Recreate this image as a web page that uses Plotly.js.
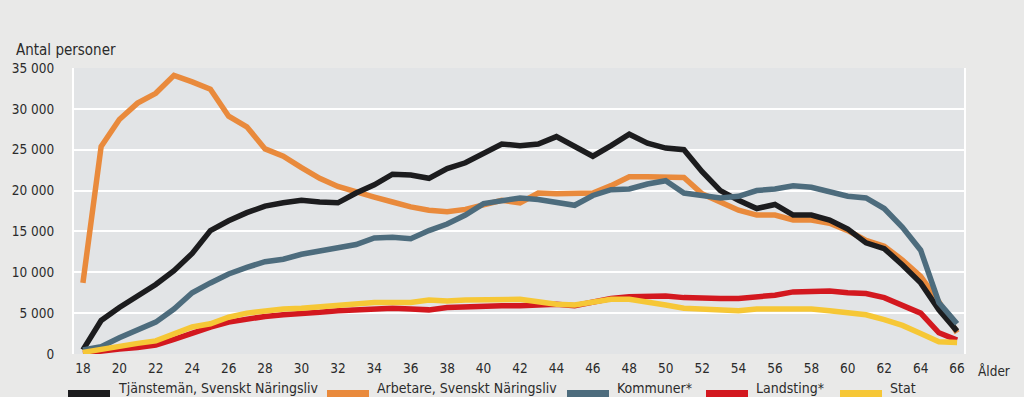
<!DOCTYPE html>
<html>
<head>
<meta charset="utf-8">
<script src="https://cdn.plot.ly/plotly-3.0.1.min.js"></script>
<style>
html,body{margin:0;padding:0;background:#e9e9e8;}
#chart{width:1024px;height:397px;}
</style>
</head>
<body>
<div id="chart"></div>
<script>
// Ages (x axis)
const ages = [18,19,20,21,22,23,24,25,26,27,28,29,30,31,32,33,34,35,36,37,38,39,40,41,42,
              43,44,45,46,47,48,49,50,51,52,53,54,55,56,57,58,59,60,61,62,63,64,65,66];

// Series values (Antal personer)
const tjanstemanNaringsliv = [500,4100,5700,7100,8500,10200,12300,15100,16300,17300,18100,18500,18800,18600,18500,19700,20700,22000,21900,21500,22700,23400,24500,25700,25500,
                              25700,26600,25400,24200,25500,26900,25800,25200,25000,22300,20000,18800,17800,18300,17000,17000,16400,15300,13600,12900,10900,8700,5400,2800];
const arbetareNaringsliv = [8700,25400,28700,30700,31900,34100,33300,32400,29100,27800,25100,24200,22800,21500,20500,19800,19200,18600,18000,17600,17400,17700,18200,18800,18500,
                            19700,19600,19700,19700,20600,21700,21700,21600,21600,19600,18600,17600,17000,17000,16400,16400,16000,15100,13900,13200,11500,9500,6400,2600];
const kommuner = [500,900,2000,2900,3900,5500,7500,8700,9800,10600,11300,11600,12200,12600,13000,13400,14200,14300,14100,15100,15900,17000,18400,18700,19100,
                  18900,18600,18200,19400,20100,20200,20800,21200,19700,19400,19100,19300,20000,20200,20600,20400,19900,19300,19100,17800,15500,12700,6300,3700];
const landsting = [100,400,600,800,1100,1800,2600,3300,3900,4300,4600,4800,4900,5100,5300,5400,5500,5600,5500,5400,5700,5800,5900,5900,5900,
                   6000,6100,5900,6300,6800,7000,7100,7100,6900,6800,6800,6800,7000,7200,7600,7700,7700,7500,7400,6900,6000,5000,2600,1700];
const stat = [200,600,1000,1300,1600,2400,3300,3700,4500,5000,5300,5500,5600,5800,6000,6200,6300,6300,6300,6600,6500,6600,6600,6600,6700,
              6400,6100,6000,6400,6700,6700,6400,6000,5600,5500,5400,5300,5500,5500,5600,5500,5300,5000,4800,4200,3500,2500,1500,1400];

const seriesNames = ["Tjänstemän, Svenskt Näringsliv","Arbetare, Svenskt Näringsliv","Kommuner*","Landsting*","Stat"];
const seriesValues = [tjanstemanNaringsliv, arbetareNaringsliv, kommuner, landsting, stat];
const seriesColors = ["#1c1c1e","#e98a3c","#4d6c7d","#d3181f","#f6c736"];

const yTickVals = [0,5000,10000,15000,20000,25000,30000,35000];
const xTickVals = [18,20,22,24,26,28,30,32,34,36,38,40,42,44,46,48,50,52,54,56,58,60,62,64,66];

const drawOrder = [1,0,2,3,4];
const traces = drawOrder.map(i => ({
  type:'scatter', mode:'lines', x:ages, y:seriesValues[i], name:seriesNames[i],
  line:{color:seriesColors[i], width:5.5, shape:'linear'}, showlegend:false, hoverinfo:'skip'
}));

const fontFam = '"DejaVu Sans Condensed","DejaVu Sans",sans-serif';
const L = 74, R = 964, T = 68, B = 354;
const W = R - L, H = B - T;
const px = v => (v - L) / W;
const py = v => (B - v) / H;

// legend layout (pixel positions of swatches)
const legendSwatchX = [68, 327, 567, 706, 840];
const shapes = [];
const annotations = [];
seriesNames.forEach((n, i) => {
  shapes.push({type:'line', xref:'paper', yref:'paper',
    x0:px(legendSwatchX[i]), x1:px(legendSwatchX[i]+42), y0:py(394), y1:py(394),
    line:{color:seriesColors[i], width:8}});
  annotations.push({xref:'paper', yref:'paper', x:px(legendSwatchX[i]+49), y:py(396.5),
    xanchor:'left', yanchor:'bottom', borderpad:0, text:n, showarrow:false,
    font:{family:fontFam, size:14, color:'#2b2b2b'}});
});
annotations.push({xref:'paper', yref:'paper', x:px(14), y:py(50), xanchor:'left', yanchor:'middle',
  text:'Antal personer', showarrow:false, font:{family:fontFam, size:15, color:'#2b2b2b'}});
annotations.push({xref:'paper', yref:'paper', x:px(976), y:py(371), xanchor:'left', yanchor:'middle',
  text:'Ålder', showarrow:false, font:{family:fontFam, size:13.5, color:'#2b2b2b'}});

const layout = {
  width:1024, height:397,
  margin:{l:L, r:1024-R, t:T, b:397-B, pad:0},
  paper_bgcolor:'#e9e9e8',
  plot_bgcolor:'#e2e4e6',
  separators:'. ',
  showlegend:false,
  xaxis:{range:[17.51, 66.38], tickvals:xTickVals, ticks:'', showgrid:false, zeroline:false,
         showline:false, tickfont:{family:fontFam, size:13.5, color:'#2b2b2b'}, ticklabelstandoff:4},
  yaxis:{range:[0,35000], tickvals:yTickVals, tickformat:',d', separatethousands:true, ticks:'',
         showgrid:true, gridcolor:'#ffffff', gridwidth:2, zeroline:false,
         showline:true, linecolor:'#ffffff', linewidth:2, mirror:true,
         tickfont:{family:fontFam, size:13.5, color:'#2b2b2b'}, ticklabelstandoff:15},
  shapes:shapes,
  annotations:annotations
};

Plotly.newPlot('chart', traces, layout, {displayModeBar:false, staticPlot:true});
</script>
</body>
</html>
